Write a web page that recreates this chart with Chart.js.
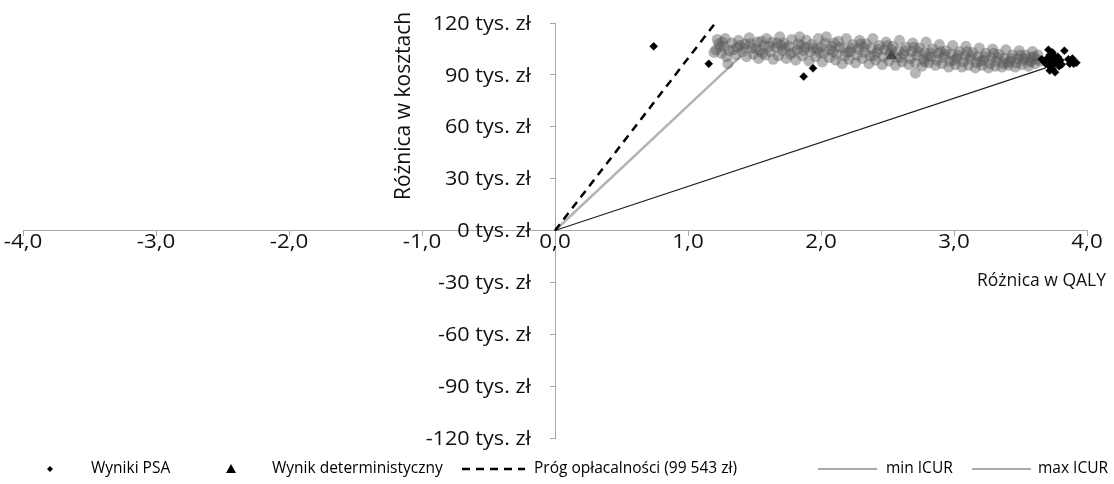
<!DOCTYPE html>
<html><head><meta charset="utf-8">
<script src="https://cdn.jsdelivr.net/npm/chart.js@4.4.1/dist/chart.umd.min.js"></script>
<style>html,body{margin:0;padding:0;background:#fff;}</style>
</head><body>
<canvas id="c" width="1114" height="484"></canvas>
<script>
// ---------- data ----------
const xTickValues = [-4, -3, -2, -1, 0, 1, 2, 3, 4];
const xTickLabels = ['-4,0', '-3,0', '-2,0', '-1,0', '0,0', '1,0', '2,0', '3,0', '4,0'];
const yTickValues = [-120, -90, -60, -30, 0, 30, 60, 90, 120];
const yTickLabels = ['-120 tys. zł', '-90 tys. zł', '-60 tys. zł', '-30 tys. zł', '0 tys. zł', '30 tys. zł', '60 tys. zł', '90 tys. zł', '120 tys. zł'];
const seriesNames = ['Wyniki PSA', 'Wynik deterministyczny', 'Próg opłacalności (99 543 zł)', 'min ICUR', 'max ICUR'];
const axisTitles = ['Różnica w QALY', 'Różnica w kosztach'];

// PSA cloud [QALY difference, cost difference in thousand zł]
const psaCloud = [
 [1.21,104.5],[1.23,108],[1.22,110.5],[1.25,102.5],[1.27,106.5],[1.28,111],[1.31,104],[1.33,108.5],[1.29,100.5],
 [1.36,101.5],[1.37,106],[1.38,110],[1.41,103.5],[1.43,108],[1.44,100.5],[1.46,111.5],[1.48,105.5],[1.49,102],
 [1.52,109],[1.53,99.5],[1.54,104],[1.57,107],[1.58,101.5],[1.59,111],[1.62,103.5],[1.63,109],[1.64,99],
 [1.66,106],[1.68,101],[1.69,112],[1.71,104],[1.72,108.5],[1.74,99.5],[1.76,106.5],[1.77,102],[1.78,110.5],
 [1.81,98.5],[1.82,104.5],[1.83,108],[1.84,112],[1.86,101],[1.88,106],[1.89,110],[1.91,98],[1.92,103.5],
 [1.93,107.5],[1.96,100.5],[1.97,105],[1.98,111],[2.01,97.5],[2.02,102.5],[2.03,108.5],[2.04,112],[2.06,100],
 [2.07,104.5],[2.08,106.5],[2.11,98.5],[2.12,102],[2.13,109.5],[2.16,96.5],[2.17,105.5],[2.18,101],[2.19,111],
 [2.21,99],[2.22,103.5],[2.24,107.5],[2.26,97],[2.27,101.5],[2.28,105],[2.29,110],[2.31,99.5],[2.33,103],
 [2.34,108],[2.36,96.5],[2.37,101],[2.38,105.5],[2.39,111],[2.41,98.5],[2.42,103],[2.44,107],[2.46,96],
 [2.47,100.5],[2.48,104.5],[2.49,109],[2.51,98],[2.52,102.5],[2.54,106.5],[2.56,95.5],[2.57,100],[2.58,104],
 [2.59,110],[2.61,97.5],[2.62,102],[2.64,106],[2.66,96],[2.67,99.5],[2.68,103.5],[2.69,108.5],[2.71,97],
 [2.72,101],[2.74,105.5],[2.76,95],[2.77,99],[2.78,103],[2.79,109],[2.81,97],[2.83,100.5],[2.84,105],
 [2.86,95.5],[2.87,98.5],[2.88,102.5],[2.89,107.5],[2.91,96.5],[2.92,100],[2.94,104],[2.96,94.5],[2.97,98],
 [2.98,102],[2.99,107],[3.01,96],[3.02,99.5],[3.04,103.5],[3.06,94.5],[3.07,97.5],[3.08,101],[3.09,106.5],
 [3.11,95.5],[3.12,99],[3.14,103],[3.16,94],[3.17,97],[3.18,100.5],[3.19,105.5],[3.21,95.5],[3.22,98.5],
 [3.24,102.5],[3.26,94],[3.27,96.5],[3.28,100],[3.29,105],[3.31,95],[3.32,98],[3.34,102],[3.36,94.5],
 [3.37,96.5],[3.38,99.5],[3.39,104.5],[3.41,95.5],[3.42,98],[3.44,101.5],[3.46,94.5],[3.47,97],[3.48,99.5],
 [3.49,104],[3.51,96],[3.52,98.5],[3.54,101.5],[3.56,95],[3.57,97.5],[3.58,100],[3.59,103.5],[3.61,96.5],
 [3.62,99],[3.63,101.5],[3.65,98],
 [1.24,106],[1.34,104.5],[1.39,107],[1.47,108],[1.51,105],[1.56,102.5],[1.61,106.5],[1.67,108.5],[1.73,105.5],
 [1.79,103],[1.87,104],[1.94,105.5],[1.99,103],[2.09,103.5],[2.14,106],[2.23,105.5],[2.32,106],[2.43,105],
 [2.53,104.5],[2.63,104],[2.73,103.5],[2.82,103],[2.93,102],[3.03,101.5],[3.13,101],[3.23,100.5],[3.33,100],
 [3.43,99.5],[3.53,99.5],[3.60,100.5],
 [1.26,109],[1.42,105.5],[1.55,109.5],[1.70,107],[1.85,107],[2.00,106],[2.10,108.5],[2.20,103],[2.30,108],
 [2.40,101],[2.50,107],[2.60,100],[2.70,106],[2.80,100.5],[2.90,103.5],[3.00,98.5],[3.10,103.5],[3.20,98],
 [3.30,102.5],[3.40,97],[3.50,101.5],[3.58,98],
 [1.195,103],[1.30,96.5],[2.71,91],[2.78,97.5]
];
// PSA points plotted in black (outliers and right-hand cluster)
const psaDark = [
 [0.742,106.5],[1.156,96.4],[1.87,89],[1.94,93.8],
 [3.68,97.5],[3.70,99.5],[3.71,95.5],[3.73,98],[3.72,101.5],[3.75,96],[3.76,99],
 [3.74,93.5],[3.78,100.5],[3.77,97],[3.80,98.5],[3.79,95],[3.69,96.5],[3.74,103],
 [3.72,92.5],[3.76,91.5],[3.81,96],[3.66,99],[3.71,104.5],[3.75,101],[3.73,95],
 [3.83,104],[3.86,99],[3.88,97.5],[3.90,96.5],[3.92,97],[3.87,96.5],[3.89,99.5]
];
const deterministic = [[2.53,101]];
const thresholdLine = [[0,0],[1.2,119.45]];
const minIcurLine = [[0,0],[3.69,94]];
const maxIcurLine = [[0,0],[1.40,101]];

// ---------- chart ----------
const FONT = '"Open Sans", "Liberation Sans", sans-serif';
const toXY = a => a.map(p => ({x: p[0], y: p[1]}));

const COLORS = {
  cloud: 'rgba(90,90,90,0.45)',
  dark: '#000',
  det: '#222',
  threshold: '#000',
  minIcur: '#222',
  maxIcur: '#b4b4b4',
  axis: '#a8a8a8',
  text: '#111'
};

function stretchText(ctx, txt, x, y, sx) {
  ctx.save();
  ctx.translate(x, y);
  ctx.scale(sx, 1);
  ctx.fillText(txt, 0, 0);
  ctx.restore();
}

const overlay = {
  id: 'overlay',
  afterDatasetsDraw(chart) {
    const ctx = chart.ctx;
    const xs = chart.scales.x, ys = chart.scales.y;
    const x0 = xs.getPixelForValue(0);
    const y0 = ys.getPixelForValue(0);
    ctx.save();
    ctx.fillStyle = COLORS.text;
    ctx.textBaseline = 'middle';
    // y tick labels
    ctx.font = '20px ' + FONT;
    ctx.textAlign = 'right';
    yTickValues.forEach((v, i) => {
      stretchText(ctx, yTickLabels[i], x0 - 24, ys.getPixelForValue(v) + 1, 1.08);
    });
    // x tick labels
    ctx.textAlign = 'center';
    xTickValues.forEach((v, i) => {
      stretchText(ctx, xTickLabels[i], xs.getPixelForValue(v), y0 + 12, 1.12);
    });
    // axis titles
    ctx.font = '21px ' + FONT;
    ctx.save();
    ctx.translate(404, 106);
    ctx.rotate(-Math.PI / 2);
    ctx.textAlign = 'center';
    ctx.fillText(axisTitles[1], 0, 0);
    ctx.restore();
    ctx.font = '17.5px ' + FONT;
    ctx.textAlign = 'right';
    ctx.fillText(axisTitles[0], 1106, 281);

    // legend
    const ly = 469;
    ctx.font = '15.5px ' + FONT;
    ctx.textAlign = 'left';
    ctx.fillStyle = '#000';
    ctx.beginPath();
    ctx.moveTo(50, ly - 3); ctx.lineTo(53, ly); ctx.lineTo(50, ly + 3); ctx.lineTo(47, ly); ctx.closePath();
    ctx.fill();
    ctx.fillText(seriesNames[0], 91, ly);
    ctx.beginPath();
    ctx.moveTo(231, ly - 5); ctx.lineTo(236, ly + 4); ctx.lineTo(226, ly + 4); ctx.closePath();
    ctx.fill();
    ctx.fillText(seriesNames[1], 272, ly);
    ctx.strokeStyle = COLORS.threshold;
    ctx.lineWidth = 2.5;
    ctx.setLineDash([8, 6]);
    ctx.beginPath(); ctx.moveTo(462, ly); ctx.lineTo(525, ly); ctx.stroke();
    ctx.setLineDash([]);
    ctx.fillText(seriesNames[2], 534, ly);
    ctx.strokeStyle = '#555'; ctx.lineWidth = 1;
    ctx.beginPath(); ctx.moveTo(818, ly); ctx.lineTo(877, ly); ctx.stroke();
    ctx.fillText(seriesNames[3], 886, ly);
    ctx.beginPath(); ctx.moveTo(972, ly); ctx.lineTo(1031, ly); ctx.stroke();
    ctx.fillText(seriesNames[4], 1038, ly);
    ctx.restore();
  }
};

new Chart(document.getElementById('c'), {
  type: 'scatter',
  data: {
    datasets: [
      { label: seriesNames[1], data: toXY(deterministic), order: 6,
        pointStyle: 'triangle', pointRadius: 6, backgroundColor: COLORS.det, borderColor: COLORS.det },
      { label: seriesNames[0], data: toXY(psaCloud), order: 2,
        pointStyle: 'circle', pointRadius: 5.5, backgroundColor: COLORS.cloud, borderWidth: 0 },
      { label: seriesNames[0] + ' ', data: toXY(psaDark), order: 1,
        pointStyle: 'rectRot', pointRadius: 4, backgroundColor: COLORS.dark, borderColor: COLORS.dark, borderWidth: 0.5 },
      { label: seriesNames[2], data: toXY(thresholdLine), order: 3, showLine: true, pointRadius: 0,
        borderColor: COLORS.threshold, borderWidth: 2.5, borderDash: [8, 6] },
      { label: seriesNames[3], data: toXY(minIcurLine), order: 4, showLine: true, pointRadius: 0,
        borderColor: COLORS.minIcur, borderWidth: 1.3 },
      { label: seriesNames[4], data: toXY(maxIcurLine), order: 5, showLine: true, pointRadius: 0,
        borderColor: COLORS.maxIcur, borderWidth: 2.5 }
    ]
  },
  options: {
    responsive: false,
    devicePixelRatio: 1,
    animation: false,
    layout: { padding: { left: 23, right: 27, top: 23, bottom: 46 } },
    plugins: { legend: { display: false }, tooltip: { enabled: false } },
    scales: {
      x: {
        type: 'linear', min: -4, max: 4, position: { y: 0 },
        afterBuildTicks: s => { s.ticks = xTickValues.map(v => ({ value: v })); },
        ticks: { display: false },
        grid: { drawOnChartArea: false, drawTicks: true, tickLength: 5, color: COLORS.axis },
        border: { display: true, color: COLORS.axis, width: 1 }
      },
      y: {
        type: 'linear', min: -120, max: 120, position: { x: 0 },
        afterBuildTicks: s => { s.ticks = yTickValues.map(v => ({ value: v })); },
        ticks: { display: false },
        grid: { drawOnChartArea: false, drawTicks: true, tickLength: 5, color: COLORS.axis },
        border: { display: true, color: COLORS.axis, width: 1 }
      }
    }
  },
  plugins: [overlay]
});
</script>
</body></html>
